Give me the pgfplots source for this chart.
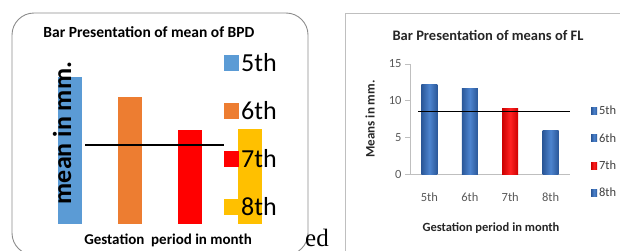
\documentclass[border=0pt]{standalone}
\usepackage{pgfplots}
\pgfplotsset{compat=1.18}
\usepackage{fontspec}
\setmainfont{Carlito}
\newfontfamily\seriffont{Liberation Serif}
\definecolor{bblue}{HTML}{5B9BD5}
\definecolor{borange}{HTML}{ED7D31}
\definecolor{bred}{HTML}{FF0000}
\definecolor{byellow}{HTML}{FFC000}
\definecolor{rbdark}{HTML}{2A5798}
\definecolor{rblight}{HTML}{4D84CF}
\definecolor{rrdark}{HTML}{CC0000}
\definecolor{rrlight}{HTML}{FF2222}
\pgfplotsset{every axis title shift=0pt}
\begin{document}
\begin{tikzpicture}[x=1pt,y=1pt]
\path[use as bounding box] (0,0) rectangle (620,250);
\draw[draw=black!45, line width=0.9pt, rounded corners=22pt] (12,-5) rectangle (308,237);
\node[anchor=base west, inner sep=0pt] at (305,4) {\seriffont\fontsize{25}{25}\selectfont ed};
\draw[black!25, line width=0.8pt] (345,-10) rectangle (630,237);

% ---------- Left chart: BPD ----------
\begin{axis}[at={(45pt,26pt)}, anchor=south west, scale only axis,
  width=230pt, height=160pt,
  xmin=-0.42, xmax=3.42, ymin=0, ymax=160,
  axis line style={draw=none}, xtick=\empty, ytick=\empty, clip=false,
  title={Bar Presentation of mean of BPD},
  title style={font=\bfseries\fontsize{15.5}{18}\selectfont, at={(0.452,1.197)}, anchor=center, yshift=0pt},
  xlabel={Gestation\ \ period in month},
  xlabel style={font=\bfseries\fontsize{15}{18}\selectfont, at={(0.535,-0.1)}, anchor=center},
  ylabel={mean in mm.},
  ylabel style={font=\bfseries\fontsize{26}{28}\selectfont, at={(0.074,0.569)}, anchor=center},
  legend style={draw=none, fill=none, at={(0.765,1.095)}, anchor=north west,
    font=\fontsize{26}{28}\selectfont, row sep=24.5pt},
  legend cell align=left,
  legend image code/.code={\fill[#1] (0pt,-8pt) rectangle (15pt,8pt);},
]
\addplot[ybar, bar width=24pt, bar shift=0pt, draw=none, fill=bblue] coordinates {(0,147)};
\addplot[ybar, bar width=24pt, bar shift=0pt, draw=none, fill=borange] coordinates {(1,127)};
\addplot[ybar, bar width=24pt, bar shift=0pt, draw=none, fill=bred] coordinates {(2,94)};
\addplot[ybar, bar width=24pt, bar shift=0pt, draw=none, fill=byellow] coordinates {(3,95)};
\addplot[black, line width=1.1pt, forget plot] coordinates {(0.25,79) (2.57,79)};
\legend{5th,6th,7th,8th}
\end{axis}

% ---------- Right chart: FL ----------
\begin{axis}[at={(410pt,76pt)}, anchor=south west, scale only axis,
  width=160pt, height=110pt,
  xmin=-0.48, xmax=3.48, ymin=0, ymax=15, clip=false,
  axis x line*=bottom, axis y line*=left,
  axis line style={draw=black!25, line width=0.8pt},
  ytick={0,5,10,15}, xtick={0,1,2,3}, xticklabels={5th,6th,7th,8th},
  xtick style={draw=none}, ytick style={draw=black!25, line width=0.8pt},
  tick align=outside, major tick length=5pt,
  /pgf/number format/assume math mode=true,
  tick label style={font=\fontsize{12.5}{15}\selectfont, text=black!65},
  xticklabel style={yshift=-10pt},
  title={Bar Presentation of means of FL},
  title style={font=\bfseries\fontsize{14.5}{17}\selectfont, at={(0.4875,1.26)}, anchor=center, yshift=0pt, text=black!85},
  xlabel={Gestation period in month},
  xlabel style={font=\bfseries\fontsize{12.5}{15}\selectfont, at={(0.506,-0.49)}, anchor=center, text=black!85},
  ylabel={Means in mm.},
  ylabel style={font=\bfseries\fontsize{13}{15}\selectfont, at={(-0.25,0.5)}, anchor=center, text=black!85},
  legend style={draw=none, fill=none, at={(1.112,0.655)}, anchor=north west,
    font=\fontsize{12.5}{15}\selectfont, text=black!75, row sep=13pt},
  legend cell align=left,
  legend image code/.code={\fill[#1] (0pt,-3.5pt) rectangle (6pt,3.5pt);},
]
\addplot[ybar, bar width=16pt, bar shift=0pt, draw=none, left color=rbdark, right color=rbdark, middle color=rblight] coordinates {(0,12.2)};
\addplot[ybar, bar width=16pt, bar shift=0pt, draw=none, left color=rbdark, right color=rbdark, middle color=rblight] coordinates {(1,11.7)};
\addplot[ybar, bar width=16pt, bar shift=0pt, draw=none, left color=rrdark, right color=rrdark, middle color=rrlight] coordinates {(2,8.9)};
\addplot[ybar, bar width=16pt, bar shift=0pt, draw=none, left color=rbdark, right color=rbdark, middle color=rblight] coordinates {(3,6.0)};
\addplot[black, line width=1.5pt, forget plot] coordinates {(-0.28,8.5) (3.47,8.5)};
\legend{5th,6th,7th,8th}
\end{axis}
\end{tikzpicture}
\end{document}
